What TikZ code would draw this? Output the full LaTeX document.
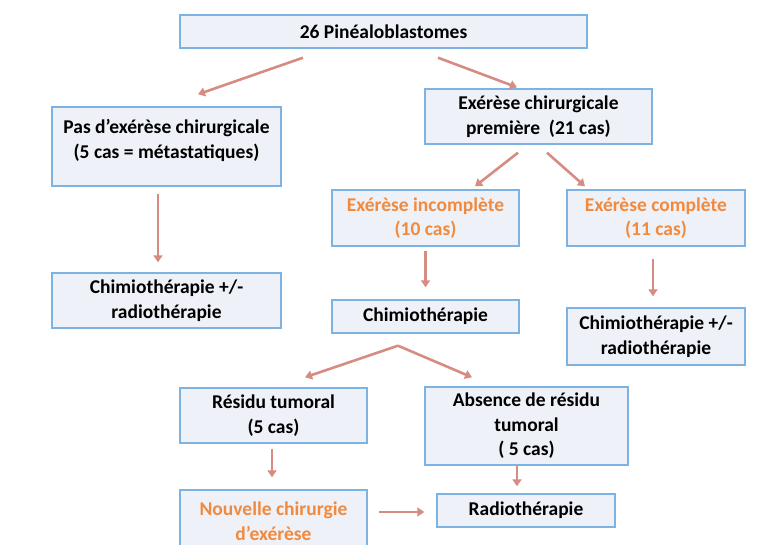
\documentclass[tikz,border=0pt]{standalone}
\usepackage{fontspec}
\setmainfont{Carlito}
\usetikzlibrary{arrows.meta}

\definecolor{boxfill}{HTML}{EEF1F7}
\definecolor{boxline}{HTML}{7DB3E3}
\definecolor{arrowcol}{HTML}{D68C82}
\definecolor{orangetext}{HTML}{F28A3E}

\begin{document}
\begin{tikzpicture}[x=1pt, y=-1pt,
    nodes = {font=\fontsize{19.5}{24.5}\selectfont\bfseries},
    box/.style = {draw=boxline, fill=boxfill, line width=1.4pt,
                  align=center, inner sep=2pt},
    hot/.style = {text=orangetext},
    arrow/.style = {draw=arrowcol, line width=2.6pt,
                    -{Triangle[width=9pt,length=7pt]}}]
  \useasboundingbox (0,0) rectangle (769,545);

  % boxes, placed at their centres
  \node[box, minimum width=407pt, minimum height=33pt] (top) at (383.5,31.5)
    {26 Pinéaloblastomes};
  \node[box, minimum width=229pt, minimum height=79pt] (pas) at (166.5,146.5)
    {Pas d’exérèse chirurgicale\\(5 cas = métastatiques)\\[-9pt]\mbox{}};
  \node[box, minimum width=227pt, minimum height=55pt] (prem) at (538.5,116.5)
    {Exérèse chirurgicale\\première~~(21 cas)};
  \node[box, minimum width=229pt, minimum height=55pt] (chl) at (166.5,300.5)
    {Chimiothérapie +/-\\radiothérapie};
  \node[box, hot, minimum width=187pt, minimum height=56pt] (inc) at (425.5,218)
    {Exérèse incomplète\\(10 cas)};
  \node[box, hot, minimum width=178pt, minimum height=56pt] (comp) at (656,218)
    {Exérèse complète\\(11 cas)};
  \node[box, minimum width=187pt, minimum height=33pt] (chm) at (425.5,316.5)
    {Chimiothérapie};
  \node[box, minimum width=178pt, minimum height=57pt] (chr) at (656,336.5)
    {Chimiothérapie +/-\\radiothérapie};
  \node[box, minimum width=187pt, minimum height=55pt] (res) at (273.5,415.5)
    {Résidu tumoral\\(5 cas)};
  \node[box, minimum width=203pt, minimum height=78pt] (abs) at (526.5,426)
    {Absence de résidu\\tumoral\\( 5 cas)};
  \node[box, hot, minimum width=187pt, minimum height=62pt] (nouv) at (273.5,521)
    {Nouvelle chirurgie\\d’exérèse};
  \node[box, minimum width=178pt, minimum height=33pt] (radio) at (526,510.5)
    {Radiothérapie};

  % arrows between the boxes
  \draw[arrow] ([xshift=-80.5pt,yshift=-9pt]top.south) -- ([xshift=31.5pt,yshift=12pt]pas.north);
  \draw[arrow] ([xshift=54.5pt,yshift=-9pt]top.south) -- ([xshift=-21.5pt,yshift=1pt]prem.north);
  \draw[arrow] ([xshift=-8.5pt,yshift=-7pt]pas.south) -- ([xshift=-8.5pt,yshift=10pt]chl.north);
  \draw[arrow] ([xshift=-20.5pt,yshift=-8pt]prem.south) -- ([xshift=49.5pt,yshift=3pt]inc.north);
  \draw[arrow] ([xshift=8.5pt,yshift=-8pt]prem.south) -- ([xshift=-71pt,yshift=3pt]comp.north);
  \draw[arrow] ([yshift=-4pt]inc.south) -- ([yshift=12pt]chm.north);
  \draw[arrow] ([xshift=-3pt,yshift=-12pt]comp.south) -- ([xshift=-3pt,yshift=11pt]chr.north);
  \coordinate (fork) at ([xshift=-27.5pt,yshift=-12pt]chm.south); % apex of the split
  \draw[arrow] (fork) -- ([xshift=31.5pt,yshift=10pt]res.north);
  \draw[arrow] (fork) -- ([xshift=-54.5pt,yshift=9pt]abs.north);
  \draw[arrow] ([xshift=-1.5pt,yshift=-5pt]res.south) -- ([xshift=-1.5pt,yshift=12pt]nouv.north);
  \draw[arrow] ([xshift=-9.5pt]abs.south) -- ([xshift=-9pt,yshift=7pt]radio.north);
  \draw[arrow] ([xshift=11pt,yshift=9pt]nouv.east) -- ([xshift=-12pt,yshift=-1.5pt]radio.west);
\end{tikzpicture}
\end{document}
